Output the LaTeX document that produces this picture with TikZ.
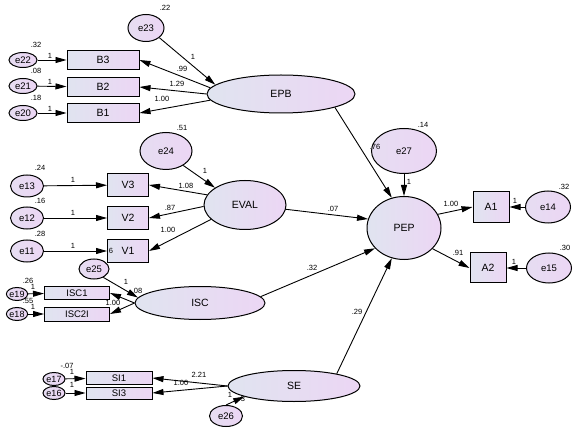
\documentclass[tikz,border=0pt]{standalone}
\usepackage{fontspec}
\setmainfont{Liberation Sans}
\usetikzlibrary{arrows.meta,shapes.geometric}
\definecolor{fillL}{RGB}{224,228,240}
\definecolor{fillR}{RGB}{236,214,244}
\tikzset{
 lat/.style={ellipse, draw, line width=1pt, left color=fillL, right color=fillR, inner sep=0pt, font=\fontsize{10.5}{11}\selectfont},
 err/.style={ellipse, draw, line width=1pt, left color=fillL!50!fillR, right color=fillR, inner sep=0pt, font=\fontsize{9.5}{10}\selectfont},
 obs/.style={rectangle, draw, line width=1pt, left color=fillL, right color=fillR, inner sep=0pt, font=\fontsize{10.5}{11}\selectfont},
 arr/.style={-{Triangle[length=11pt,width=6pt]}, line width=0.9pt},
 lab/.style={font=\fontsize{7.5}{8}\selectfont, inner sep=0pt},
}
\begin{document}
\begin{tikzpicture}[x=1pt,y=-1pt]
\fill[white] (0,0) rectangle (586,438);
\useasboundingbox (0,0) rectangle (586,438);
% latent
\node[lat, minimum width=148pt, minimum height=38pt] (EPB) at (281,94) {EPB};
\node[lat, minimum width=82pt, minimum height=49pt] (EVAL) at (245,205) {EVAL};
\node[lat, minimum width=130pt, minimum height=33pt] (ISC) at (200,303) {ISC};
\node[lat, minimum width=132pt, minimum height=31pt] (SE) at (294,386) {SE};
\node[lat, minimum width=74pt, minimum height=63pt] (PEP) at (404,228) {PEP};
% observed
\node[obs, minimum width=72pt, minimum height=19pt] (B3) at (103,60) {B3};
\node[obs, minimum width=72pt, minimum height=19pt] (B2) at (103,87) {B2};
\node[obs, minimum width=72pt, minimum height=19pt] (B1) at (103,113) {B1};
\node[obs, minimum width=41pt, minimum height=23pt] (V3) at (128,185) {V3};
\node[obs, minimum width=41pt, minimum height=23pt] (V2) at (128,218) {V2};
\node[obs, minimum width=41pt, minimum height=23pt] (V1) at (128,251) {V1};
\node[obs, minimum width=65pt, minimum height=13pt, font=\fontsize{9.5}{10}\selectfont] (ISC1) at (77,293) {ISC1};
\node[obs, minimum width=65pt, minimum height=14pt, font=\fontsize{9.5}{10}\selectfont] (ISC2) at (77,314) {ISC2I};
\node[obs, minimum width=66pt, minimum height=13pt, font=\fontsize{9.5}{10}\selectfont] (SI1) at (119,378) {SI1};
\node[obs, minimum width=66pt, minimum height=12pt, font=\fontsize{9.5}{10}\selectfont] (SI3) at (119,393) {SI3};
\node[obs, minimum width=36pt, minimum height=31pt] (A1) at (491,207) {A1};
\node[obs, minimum width=36pt, minimum height=30pt] (A2) at (488,268) {A2};
% errors
\node[err, minimum width=36pt, minimum height=27pt] (e23) at (146,28) {e23};
\node[err, minimum width=28pt, minimum height=15pt] (e22) at (23,60) {e22};
\node[err, minimum width=28pt, minimum height=15pt] (e21) at (23,86) {e21};
\node[err, minimum width=28pt, minimum height=15pt] (e20) at (23,113) {e20};
\node[err, minimum width=52pt, minimum height=37pt] (e24) at (166,151) {e24};
\node[err, minimum width=33pt, minimum height=22pt] (e13) at (27,186) {e13};
\node[err, minimum width=33pt, minimum height=22pt] (e12) at (27,218) {e12};
\node[err, minimum width=33pt, minimum height=22pt] (e11) at (27,251) {e11};
\node[err, minimum width=30pt, minimum height=20pt] (e25) at (94,269) {e25};
\node[err, minimum width=20pt, minimum height=13pt, font=\fontsize{9}{9}\selectfont] (e19) at (17,294) {e19};
\node[err, minimum width=20pt, minimum height=13pt, font=\fontsize{9}{9}\selectfont] (e18) at (17,314) {e18};
\node[err, minimum width=22pt, minimum height=13pt, font=\fontsize{9}{9}\selectfont] (e17) at (54,379) {e17};
\node[err, minimum width=22pt, minimum height=13pt, font=\fontsize{9}{9}\selectfont] (e16) at (54,393) {e16};
\node[err, minimum width=33pt, minimum height=21pt] (e26) at (226,416) {e26};
\node[err, minimum width=65pt, minimum height=45pt] (e27) at (404,151) {e27};
\node[err, minimum width=45pt, minimum height=32pt] (e14) at (548,207) {e14};
\node[err, minimum width=45pt, minimum height=30pt] (e15) at (549,268) {e15};
% error arrows
\draw[arr] (e22) -- (B3);
\draw[arr] (e21) -- (B2);
\draw[arr] (e20) -- (B1);
\draw[arr] (e13) -- (V3);
\draw[arr] (e12) -- (V2);
\draw[arr] (e11) -- (V1);
\draw[arr] (e19) -- (ISC1);
\draw[arr] (e18) -- (ISC2);
\draw[arr] (e17) -- (SI1);
\draw[arr] (e16) -- (SI3);
\draw[arr] (e14) -- (A1);
\draw[arr] (e15) -- (A2);
\draw[arr] (e23.-36) -- (EPB.172);
\draw[arr] (e24.-40) -- (EVAL.150);
\draw[arr] (e25.-42) -- (ISC.175);
\draw[arr] (e26.north) -- (SE.192);
\draw[arr] (e27.south) -- (PEP.north);
% loadings
\draw[arr] (EPB.175) -- (B3.east);
\draw[arr] (EPB.180) -- (B2.east);
\draw[arr] (EPB.185) -- (B1.east);
\draw[arr] (EVAL.165) -- (V3.east);
\draw[arr] (EVAL.182) -- (V2.east);
\draw[arr] (EVAL.203) -- (V1.east);
\draw[arr] (ISC.west) -- (ISC1.east);
\draw[arr] (ISC.west) -- (ISC2.east);
\draw[arr] (SE.west) -- (SI1.east);
\draw[arr] (SE.west) -- (SI3.east);
\draw[arr] (PEP.22) -- (A1.west);
\draw[arr] (PEP.-36) -- (A2.west);
% structural
\draw[arr] (EPB.-14) -- (PEP.112);
\draw[arr] (EVAL.-6) -- (PEP.166);
\draw[arr] (ISC.6) -- (PEP.215);
\draw[arr] (SE.16) -- (PEP.248);
% labels
\node[lab] at (165,8) {.22};
\node[lab] at (36,45) {.32};
\node[lab] at (36,71) {.08};
\node[lab] at (36,98) {.18};
\node[lab] at (50,56) {1};
\node[lab] at (50,82) {1};
\node[lab] at (50,109) {1};
\node[lab] at (193,57) {1};
\node[lab] at (182,69) {.99};
\node[lab] at (177,84) {1.29};
\node[lab] at (162,99) {1.00};
\node[lab] at (182,128) {.51};
\node[lab] at (40,168) {.24};
\node[lab] at (40,201) {.16};
\node[lab] at (40,234) {.28};
\node[lab] at (73,180) {1};
\node[lab] at (73,213) {1};
\node[lab] at (73,246) {1};
\node[lab] at (111,251) {6};
\node[lab] at (205,171) {1};
\node[lab] at (186,186) {1.08};
\node[lab] at (170,208) {.87};
\node[lab] at (168,230) {1.00};
\node[lab] at (333,209) {.07};
\node[lab] at (423,125) {.14};
\node[lab] at (375,147) {.76};
\node[lab] at (409,182) {1};
\node[lab] at (451,204) {1.00};
\node[lab] at (458,253) {.91};
\node[lab] at (564,187) {.32};
\node[lab] at (515,201) {1};
\node[lab] at (565,248) {.30};
\node[lab] at (514,262) {1};
\node[lab] at (28,281) {.26};
\node[lab] at (33,287) {1};
\node[lab] at (28,301) {.55};
\node[lab] at (33,307) {1};
\node[lab] at (126,282) {1};
\node[lab] at (137,291) {.08};
\node[lab] at (113,303) {1.00};
\node[lab] at (312,268) {.32};
\node[lab] at (357,312) {.29};
\node[lab] at (67,366) {-.07};
\node[lab] at (72,372) {1};
\node[lab] at (72,385) {1};
\node[lab] at (199,375) {2.21};
\node[lab] at (181,383) {1.00};
\node[lab] at (230,395) {1};
\node[lab] at (243,399) {3};
\end{tikzpicture}
\end{document}
